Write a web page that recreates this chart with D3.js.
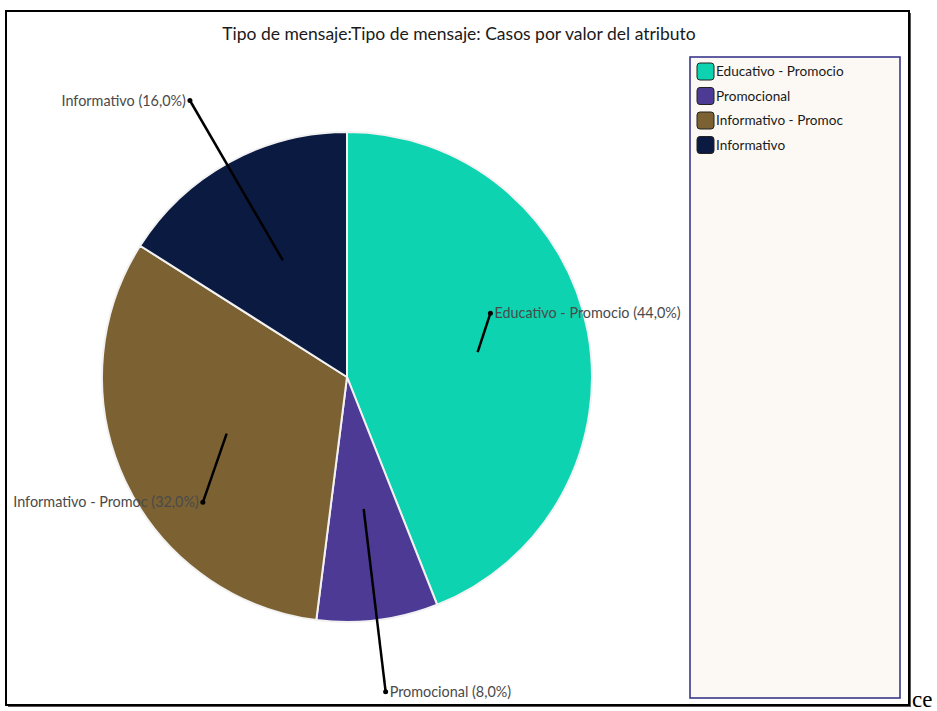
<!DOCTYPE html>
<html lang="es">
<head>
<meta charset="UTF-8">
<title>Tipo de mensaje</title>
<script src="https://cdn.jsdelivr.net/npm/d3@7"></script>
<style>
    html, body { margin: 0; padding: 0; background: #fff; }
    body { width: 937px; height: 711px; overflow: hidden; }
    svg { display: block; }
    .title { font-family: 'Lato', sans-serif; font-size: 17.5px; fill: #1a1a1a; }
    .slice-label { font-family: 'Lato', sans-serif; font-size: 14.4px; fill: #4a4a4a; }
    .legend-label { font-family: 'Lato', sans-serif; font-size: 13.6px; fill: #1a1a1a; }
</style>
</head>
<body>
<div id="chart"></div>
<script>
    // data
    const categories = ['Educativo - Promocio', 'Promocional', 'Informativo - Promoc', 'Informativo'];
    const percents = [44.0, 8.0, 32.0, 16.0];
    const colors = ['#0dd3b1', '#4c3a94', '#7c6233', '#0b1a40'];
    // where each leader line ends: angle (deg, clockwise from top) and distance from centre
    const labelAngles = [66, 173, 229, 330.4];
    const labelRadii = [157, 317, 191, 318];

    const width = 937, height = 711;
    const cx = 347, cy = 377, radius = 245;

    const svg = d3.select('#chart').append('svg')
        .attr('width', width)
        .attr('height', height);

    // outer frame with a little shadow on the right/bottom
    svg.append('rect')
        .attr('x', 8).attr('y', 13).attr('width', 903).attr('height', 694)
        .attr('fill', '#555');
    svg.append('rect')
        .attr('x', 6).attr('y', 11).attr('width', 903).attr('height', 694)
        .attr('fill', '#fff')
        .attr('stroke', '#000')
        .attr('stroke-width', 2);

    svg.append('text')
        .attr('class', 'title')
        .attr('x', 459).attr('y', 40)
        .attr('text-anchor', 'middle')
        .text('Tipo de mensaje:Tipo de mensaje: Casos por valor del atributo');

    const data = categories.map((c, i) => ({ name: c, value: percents[i], color: colors[i] }));

    const pie = d3.pie().sort(null).value(d => d.value);
    const arc = d3.arc().innerRadius(0).outerRadius(radius);
    const arcs = pie(data);

    const g = svg.append('g').attr('transform', `translate(${cx},${cy})`);

    g.selectAll('path.slice')
        .data(arcs)
        .enter()
        .append('path')
        .attr('class', 'slice')
        .attr('d', arc)
        .attr('fill', d => d.data.color)
        .attr('stroke', '#f2f2f2')
        .attr('stroke-width', 2);

    // leader lines start inside each slice along its mid angle
    const innerR = 133;
    const polar = (deg, r) => {
        const a = deg * Math.PI / 180;
        return [Math.sin(a) * r, -Math.cos(a) * r];
    };

    arcs.forEach((d, i) => {
        const mid = (d.startAngle + d.endAngle) / 2 * 180 / Math.PI;
        const p0 = polar(mid, innerR);
        const p1 = polar(labelAngles[i], labelRadii[i]);
        g.append('line')
            .attr('x1', p0[0]).attr('y1', p0[1])
            .attr('x2', p1[0]).attr('y2', p1[1])
            .attr('stroke', '#000')
            .attr('stroke-width', 2.5);
        g.append('circle')
            .attr('cx', p1[0]).attr('cy', p1[1])
            .attr('r', 2.5)
            .attr('fill', '#000');
        const right = p1[0] >= 0;
        g.append('text')
            .attr('class', 'slice-label')
            .attr('x', p1[0] + (right ? 4 : -4))
            .attr('y', p1[1])
            .attr('dy', '0.35em')
            .attr('text-anchor', right ? 'start' : 'end')
            .text(`${d.data.name} (${d.data.value.toFixed(1).replace('.', ',')}%)`);
    });

    // legend
    const legend = svg.append('g');
    legend.append('rect')
        .attr('x', 690).attr('y', 57).attr('width', 210).attr('height', 641)
        .attr('fill', '#fcf9f4')
        .attr('stroke', '#2e2a84')
        .attr('stroke-width', 1.5);

    const item = legend.selectAll('g.item')
        .data(data)
        .enter()
        .append('g')
        .attr('class', 'item')
        .attr('transform', (d, i) => `translate(697,${63 + i * 24.5})`);

    item.append('rect')
        .attr('width', 17).attr('height', 17)
        .attr('rx', 3).attr('ry', 3)
        .attr('fill', d => d.color)
        .attr('stroke', '#222')
        .attr('stroke-width', 1);

    item.append('text')
        .attr('class', 'legend-label')
        .attr('x', 19).attr('y', 8.5)
        .attr('dy', '0.35em')
        .text(d => d.name);

    // stray text next to the frame
    svg.append('text')
        .attr('x', 912).attr('y', 707)
        .attr('font-family', "'Liberation Serif', serif")
        .attr('font-size', 23)
        .attr('fill', '#000')
        .text('ce');
</script>
</body>
</html>
